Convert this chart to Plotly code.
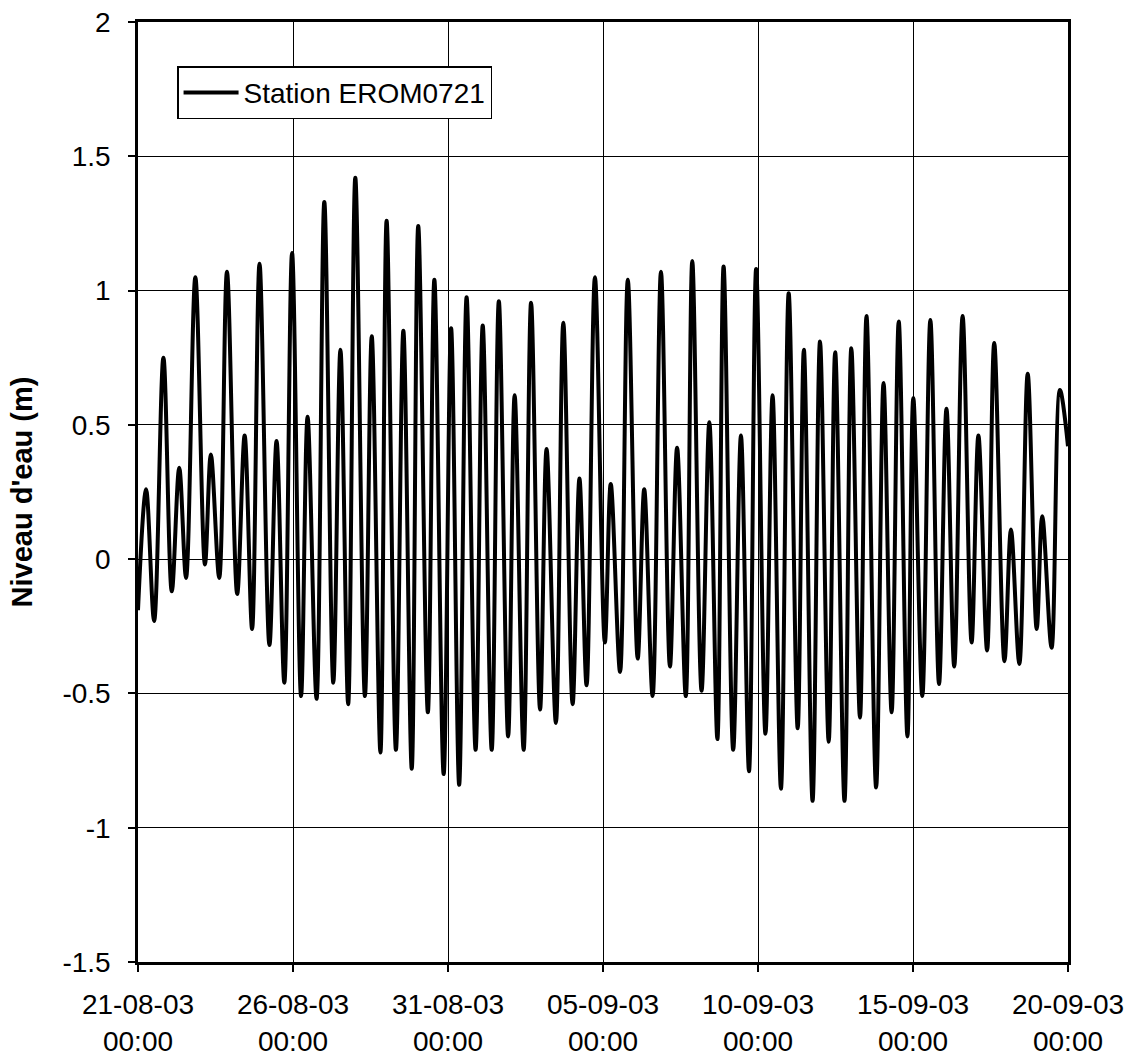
import pandas as pd
import plotly.graph_objects as go

# Successive high / low waters (days elapsed since 21-08-2003 00:00, level in m)
elapsed_days = [
    0.0, 0.26, 0.52, 0.82, 1.09, 1.33, 1.55, 1.85, 2.16, 2.35,
    2.62, 2.87, 3.2, 3.44, 3.68, 3.92, 4.24, 4.47, 4.72, 4.97,
    5.26, 5.47, 5.76, 6.01, 6.3, 6.53, 6.78, 7.01, 7.32, 7.54,
    7.82, 8.02, 8.32, 8.56, 8.83, 9.04, 9.35, 9.56, 9.86, 10.1,
    10.36, 10.6, 10.89, 11.12, 11.41, 11.64, 11.94, 12.15, 12.44, 12.68,
    12.97, 13.18, 13.48, 13.72, 14.02, 14.24, 14.47, 14.74, 15.06, 15.25,
    15.55, 15.8, 16.12, 16.33, 16.6, 16.87, 17.16, 17.39, 17.67, 17.88,
    18.18, 18.43, 18.69, 18.89, 19.2, 19.45, 19.71, 19.94, 20.24, 20.47,
    20.74, 20.99, 21.28, 21.48, 21.76, 22.0, 22.28, 22.49, 22.79, 23.01,
    23.29, 23.5, 23.81, 24.05, 24.31, 24.54, 24.82, 25.01, 25.3, 25.56,
    25.84, 26.08, 26.33, 26.6, 26.89, 27.11, 27.39, 27.62, 27.95, 28.16,
    28.43, 28.7, 28.99, 29.17, 29.47, 29.74, 30.0,
]
water_level = [
    -0.19, 0.26, -0.23, 0.75, -0.12, 0.34, -0.07, 1.05, -0.02, 0.39,
    -0.07, 1.07, -0.13, 0.46, -0.26, 1.10, -0.32, 0.44, -0.46, 1.14,
    -0.51, 0.53, -0.52, 1.33, -0.46, 0.78, -0.54, 1.42, -0.51, 0.83,
    -0.72, 1.26, -0.71, 0.85, -0.78, 1.24, -0.57, 1.04, -0.80, 0.86,
    -0.84, 0.975, -0.71, 0.87, -0.71, 0.96, -0.66, 0.61, -0.71, 0.955,
    -0.56, 0.41, -0.61, 0.88, -0.54, 0.30, -0.47, 1.05, -0.31, 0.28,
    -0.42, 1.04, -0.37, 0.26, -0.51, 1.07, -0.40, 0.415, -0.51, 1.11,
    -0.49, 0.51, -0.67, 1.09, -0.71, 0.46, -0.79, 1.08, -0.65, 0.61,
    -0.855, 0.99, -0.63, 0.78, -0.90, 0.81, -0.68, 0.77, -0.90, 0.785,
    -0.59, 0.905, -0.85, 0.656, -0.57, 0.885, -0.66, 0.60, -0.51, 0.89,
    -0.465, 0.56, -0.40, 0.905, -0.31, 0.46, -0.34, 0.805, -0.38, 0.11,
    -0.39, 0.69, -0.26, 0.16, -0.33, 0.63, 0.42,
]

series_name = "Station EROM0721"
y_title = "Niveau d'eau (m)"
y_ticks = [-1.5, -1, -0.5, 0, 0.5, 1, 1.5, 2]
y_tick_labels = ["-1.5", "-1", "-0.5", "0", "0.5", "1", "1.5", "2"]
x_tick_dates = ["2003-08-21", "2003-08-26", "2003-08-31", "2003-09-05",
                "2003-09-10", "2003-09-15", "2003-09-20"]

start = pd.Timestamp("2003-08-21 00:00")
times = start + pd.to_timedelta(elapsed_days, unit="D")
x_tick_vals = pd.to_datetime(x_tick_dates)
x_tick_text = [d.strftime("%d-%m-%y") + "<br>00:00" for d in x_tick_vals]

font_family = "Liberation Sans, Arial, sans-serif"

fig = go.Figure()
fig.add_trace(go.Scatter(
    x=times, y=water_level, mode="lines", name=series_name,
    line=dict(color="black", width=4, shape="spline", smoothing=1.0),
))

fig.update_layout(
    width=1135, height=1063,
    margin=dict(l=138, r=67, t=22, b=101),
    paper_bgcolor="white", plot_bgcolor="white",
    font=dict(family=font_family, color="black", size=28),
    showlegend=True,
    legend=dict(
        x=0.042, y=0.953, xanchor="left", yanchor="top",
        bgcolor="white", bordercolor="black", borderwidth=1.5,
        font=dict(size=28, family=font_family),
        itemwidth=55, tracegroupgap=0,
    ),
)

fig.update_xaxes(
    range=[x_tick_vals[0], x_tick_vals[-1]],
    tickvals=x_tick_vals, ticktext=x_tick_text,
    showgrid=True, gridcolor="black", gridwidth=1,
    showline=True, linecolor="black", linewidth=2.5, mirror=True,
    ticks="outside", ticklen=7, tickcolor="black", tickwidth=1.5,
    tickfont=dict(size=28), zeroline=False, ticklabelstandoff=9,
    automargin=False,
)
fig.update_yaxes(
    range=[-1.5, 2], tickvals=y_ticks, ticktext=y_tick_labels,
    showgrid=True, gridcolor="black", gridwidth=1,
    showline=True, linecolor="black", linewidth=2.5, mirror=True,
    ticks="outside", ticklen=7, tickcolor="black", tickwidth=1.5,
    tickfont=dict(size=28), zeroline=False, ticklabelstandoff=12,
    automargin=False,
    title=dict(text="<b>" + y_title + "</b>", font=dict(size=29), standoff=22),
)

fig.write_html("out.html")
